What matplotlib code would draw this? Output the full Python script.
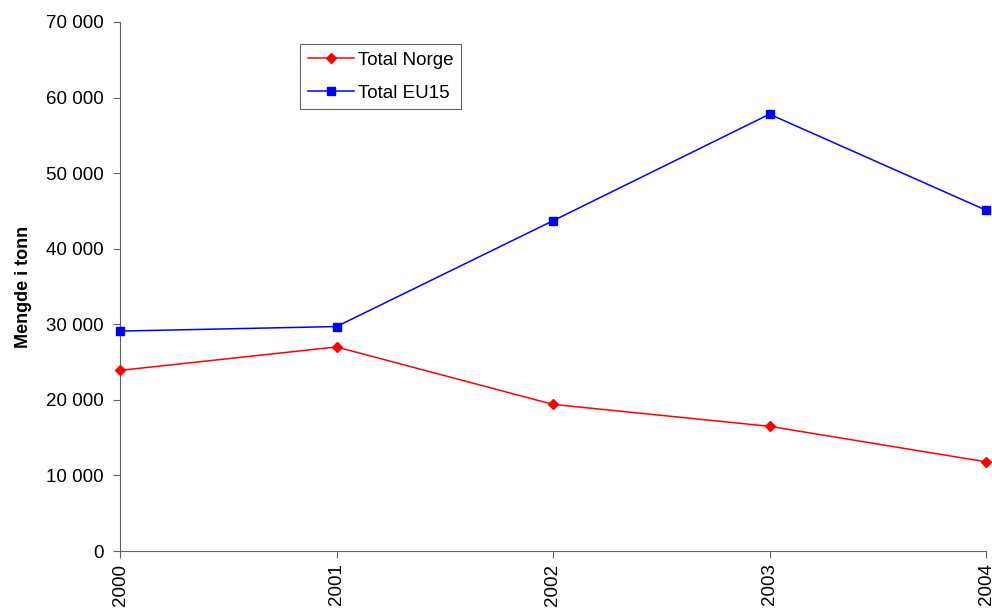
import matplotlib
matplotlib.use("Agg")
import matplotlib.pyplot as plt
from matplotlib.ticker import FuncFormatter

plt.rcParams['font.family'] = ['Liberation Sans', 'DejaVu Sans']

years = [2000, 2001, 2002, 2003, 2004]
norge = [23900, 27000, 19400, 16500, 11800]
eu15 = [29100, 29700, 43700, 57800, 45100]
yticks = [0, 10000, 20000, 30000, 40000, 50000, 60000, 70000]

fig = plt.figure(figsize=(9.92, 6.10), dpi=100)
ax = fig.add_axes([120/992, 1-551/610, (986-120)/992, (551-22)/610])

ax.plot(years, norge, color='#ff0000', lw=1.1, marker='D', ms=5, label='Total Norge', clip_on=False, zorder=3)
ax.plot(years, eu15, color='#0000ff', lw=1.1, marker='s', ms=5.5, label='Total EU15', clip_on=False, zorder=3)

ax.set_xlim(2000, 2004)
ax.set_ylim(0, 70000)
ax.set_xticks(years)
ax.set_xticklabels([str(y) for y in years], rotation=90, fontsize=13.5)
ax.set_yticks(yticks)
ax.yaxis.set_major_formatter(FuncFormatter(lambda v, p: f"{int(v):,}".replace(",", " ")))
ax.tick_params(axis='y', labelsize=13.5, length=5, direction='out', color='#606060', pad=7)
ax.tick_params(axis='x', length=5, direction='out', color='#606060', pad=4)
for s in ['top', 'right']:
    ax.spines[s].set_visible(False)
for s in ['left', 'bottom']:
    ax.spines[s].set_color('#606060')
ax.set_ylabel('Mengde i tonn', fontsize=13, fontweight='bold', labelpad=10)

leg = ax.legend(loc='upper left', bbox_to_anchor=((300-120)/866, 1-(44-22)/529),
                frameon=True, fancybox=False, edgecolor='#404040', fontsize=13.5,
                borderpad=0.4, handlelength=2.5, labelspacing=0.85, handletextpad=0.2,
                borderaxespad=0)
leg.get_frame().set_linewidth(0.8)

fig.savefig('out.png', dpi=100)
